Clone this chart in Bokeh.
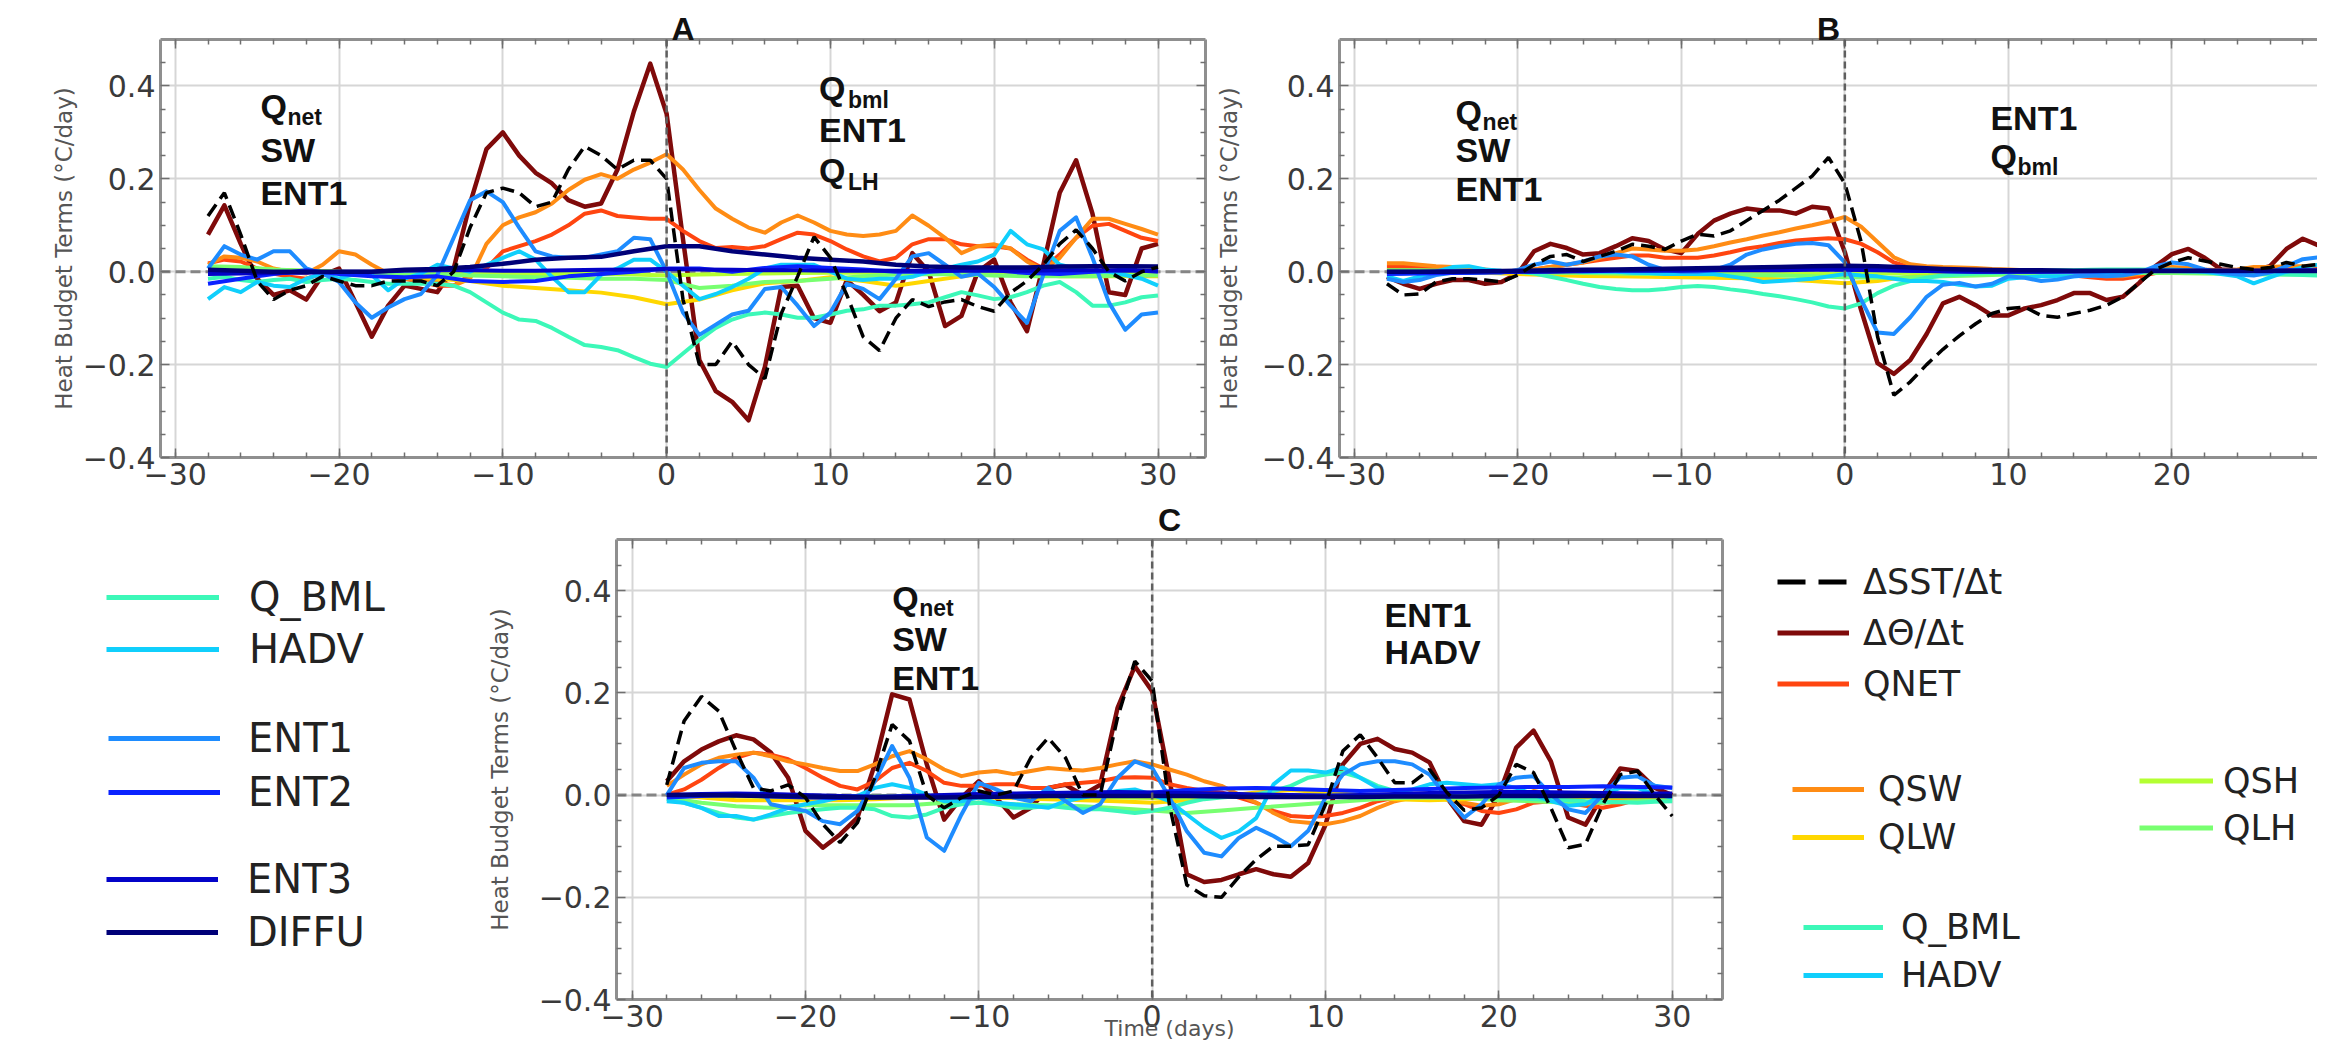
from bokeh.plotting import figure
from bokeh.models import (Range1d, LinearAxis, FixedTicker, Grid, Span, Label,
                          Legend, LegendItem, CustomJSTickFormatter)
from bokeh.layouts import column, row
from bokeh.embed import file_html
from bokeh.resources import INLINE

# ---------------------------------------------------------------- data
days = list(range(-28, 31))          # daily composite days
days2 = list(range(-28, 31, 2))      # every second day (small terms)

x_major = [-30, -20, -10, 0, 10, 20, 30]
x_labels = ["\u221230", "\u221220", "\u221210", "0", "10", "20", "30"]
x_minor = list(range(-30, 33, 2))
y_major = [-0.4, -0.2, 0.0, 0.2, 0.4]
y_labels = ["\u22120.4", "\u22120.2", "0.0", "0.2", "0.4"]
y_minor = [-0.35, -0.3, -0.25, -0.15, -0.1, -0.05, 0.05, 0.1, 0.15, 0.25, 0.3, 0.35, 0.45]

names = ["\u0394SST/\u0394t", "\u0394\u0398/\u0394t", "QNET", "QSW", "QLW", "QSH", "QLH",
         "Q_BML", "HADV", "ENT1", "ENT2", "ENT3", "DIFFU"]
colors = ["#000000", "#7f0a0a", "#ff4510", "#ff8c14", "#ffd700", "#b4ff32", "#78ff70",
          "#3cf8b8", "#10cffc", "#1e8cff", "#0a22ff", "#0303c8", "#000078"]

# ---- panel A
A_sst = [0.12, 0.17, 0.08, -0.02, -0.06, -0.04, -0.03, -0.01, -0.02, -0.03,
         -0.03, -0.02, -0.02, -0.02, -0.03, 0.0, 0.095, 0.17, 0.18, 0.17,
         0.14, 0.15, 0.22, 0.27, 0.25, 0.22, 0.24, 0.24, 0.2, -0.06,
         -0.2, -0.2, -0.15, -0.2, -0.23, -0.09, -0.01, 0.075, 0.03, -0.05,
         -0.14, -0.17, -0.1, -0.06, -0.075, -0.065, -0.06, -0.075, -0.085, -0.045,
         -0.02, 0.015, 0.06, 0.09, 0.05, 0.0, -0.02, 0.0, 0.01]
A_theta = [0.08, 0.143, 0.06, -0.015, -0.05, -0.04, -0.06, -0.007, 0.007, -0.066,
           -0.14, -0.073, -0.03, -0.037, -0.044, 0.007, 0.147, 0.264, 0.30, 0.25,
           0.213, 0.19, 0.154, 0.14, 0.147, 0.22, 0.345, 0.448, 0.34, 0.07,
           -0.19, -0.257, -0.28, -0.32, -0.205, -0.033, -0.03, -0.10, -0.11, -0.018,
           -0.05, -0.085, -0.066, 0.04, 0.0, -0.117, -0.095, 0.0, 0.026, -0.066,
           -0.128, 0.015, 0.17, 0.24, 0.125, -0.044, -0.05, 0.05, 0.06]
A_qnet = [0.018, 0.026, 0.022, 0.007, -0.004, -0.011, -0.015, -0.004, 0.0, -0.004,
          -0.007, -0.011, -0.015, -0.022, -0.03, -0.03, -0.007, 0.007, 0.044, 0.055,
          0.066, 0.08, 0.10, 0.125, 0.132, 0.12, 0.117, 0.114, 0.114, 0.088,
          0.066, 0.051, 0.053, 0.05, 0.055, 0.07, 0.084, 0.08, 0.066, 0.048,
          0.033, 0.022, 0.03, 0.059, 0.07, 0.07, 0.059, 0.055, 0.055, 0.05,
          0.026, 0.007, 0.037, 0.073, 0.099, 0.103, 0.088, 0.073, 0.066]
A_qsw = [0.015, 0.033, 0.03, 0.022, 0.007, 0.0, -0.004, 0.015, 0.044, 0.037,
         0.015, -0.004, -0.015, -0.018, -0.022, -0.03, -0.015, 0.06, 0.10, 0.117,
         0.128, 0.147, 0.176, 0.198, 0.21, 0.20, 0.22, 0.235, 0.253, 0.22,
         0.176, 0.136, 0.114, 0.095, 0.084, 0.106, 0.121, 0.106, 0.088, 0.08,
         0.077, 0.08, 0.088, 0.121, 0.099, 0.073, 0.04, 0.055, 0.059, 0.05,
         0.022, 0.004, 0.03, 0.073, 0.114, 0.114, 0.103, 0.092, 0.08]
A_qlw = [0.005, 0.008, 0.005, 0.0, 0.0, -0.005, -0.01, -0.015, -0.02, -0.03,
         -0.035, -0.04, -0.045, -0.055, -0.07, -0.06, -0.04, -0.025, -0.02, -0.012,
         -0.02, -0.03, -0.02, -0.01, -0.002, -0.005, -0.01, -0.01, -0.01, -0.01]
A_qsh = [0.01, 0.008, 0.004, 0.002, 0.0, -0.002, -0.003, -0.004, -0.004, -0.004,
         -0.005, -0.005, -0.005, -0.006, -0.008, -0.006, -0.005, -0.004, -0.003, -0.002,
         -0.002, -0.002, -0.002, -0.002, -0.002, -0.003, -0.003, -0.003, -0.003, -0.003]
A_qlh = [0.012, 0.01, 0.005, 0.002, 0.0, -0.003, -0.005, -0.006, -0.008, -0.01,
         -0.012, -0.013, -0.015, -0.015, -0.018, -0.035, -0.03, -0.022, -0.02, -0.015,
         -0.01, -0.006, -0.005, -0.006, -0.008, -0.01, -0.01, -0.01, -0.008, -0.008]
A_qbml = [-0.015, -0.011, -0.018, -0.022, -0.018, -0.015, -0.022, -0.018, -0.015, -0.018,
          -0.022, -0.026, -0.026, -0.026, -0.026, -0.03, -0.044, -0.066, -0.088, -0.103,
          -0.106, -0.121, -0.14, -0.158, -0.162, -0.169, -0.184, -0.198, -0.205, -0.176,
          -0.147, -0.121, -0.103, -0.092, -0.088, -0.092, -0.099, -0.099, -0.092, -0.084,
          -0.081, -0.073, -0.073, -0.07, -0.066, -0.055, -0.044, -0.051, -0.059, -0.055,
          -0.044, -0.03, -0.022, -0.044, -0.073, -0.073, -0.066, -0.055, -0.051]
A_hadv = [-0.059, -0.033, -0.044, -0.022, -0.03, -0.033, -0.015, -0.004, -0.015, -0.004,
          -0.007, -0.04, -0.015, -0.004, 0.015, 0.007, 0.0, 0.015, 0.03, 0.044,
          0.026, -0.011, -0.044, -0.044, -0.007, 0.007, 0.026, 0.026, 0.0, -0.03,
          -0.059, -0.048, -0.033, -0.015, 0.007, 0.015, 0.015, 0.015, 0.0, -0.015,
          -0.018, -0.015, -0.015, -0.011, 0.0, 0.007, 0.015, 0.022, 0.037, 0.088,
          0.059, 0.048, 0.015, 0.007, 0.0, 0.0, -0.007, -0.015, -0.03]
A_ent1 = [0.007, 0.055, 0.037, 0.026, 0.044, 0.044, 0.007, -0.004, -0.022, -0.066,
          -0.099, -0.077, -0.059, -0.048, -0.007, 0.073, 0.154, 0.173, 0.15, 0.095,
          0.044, 0.033, 0.03, 0.03, 0.037, 0.044, 0.073, 0.07, 0.0, -0.088,
          -0.136, -0.114, -0.092, -0.084, -0.037, -0.033, -0.073, -0.117, -0.088, -0.026,
          -0.037, -0.059, -0.015, 0.033, 0.04, 0.015, -0.011, -0.004, -0.033, -0.073,
          -0.11, -0.007, 0.088, 0.117, 0.03, -0.066, -0.125, -0.092, -0.088]
A_ent2 = [-0.026, -0.015, -0.005, 0.003, -0.005, -0.01, -0.012, -0.01, -0.02, -0.022,
          -0.02, -0.01, -0.005, 0.0, 0.007, 0.007, 0.0, 0.008, 0.012, 0.008,
          0.005, 0.0, 0.0, 0.003, 0.003, -0.003, -0.005, 0.0, 0.005, 0.0]
A_ent3 = [-0.005, -0.004, -0.003, -0.002, 0.0, 0.0, 0.002, 0.003, 0.003, 0.002,
          0.002, 0.003, 0.004, 0.005, 0.006, 0.005, 0.004, 0.003, 0.003, 0.002,
          0.002, 0.002, 0.002, 0.002, 0.002, 0.002, 0.003, 0.003, 0.002, 0.002]
A_diffu = [0.004, 0.002, 0.0, 0.0, 0.0, 0.0, 0.004, 0.006, 0.01, 0.017,
           0.026, 0.03, 0.032, 0.044, 0.055, 0.055, 0.044, 0.037, 0.03, 0.026,
           0.022, 0.015, 0.011, 0.009, 0.009, 0.009, 0.011, 0.012, 0.012, 0.011]

# ---- panel B
B_sst = [-0.026, -0.05, -0.048, -0.022, -0.015, -0.015, -0.018, -0.022, -0.007, 0.015,
         0.033, 0.037, 0.022, 0.033, 0.044, 0.059, 0.055, 0.048, 0.066, 0.081,
         0.077, 0.088, 0.11, 0.132, 0.154, 0.18, 0.206, 0.246, 0.19, 0.064,
         -0.14, -0.266, -0.237, -0.2, -0.167, -0.138, -0.112, -0.09, -0.079, -0.076,
         -0.094, -0.098, -0.09, -0.083, -0.072, -0.054, -0.024, 0.005, 0.02, 0.03,
         0.023, 0.016, 0.009, 0.005, 0.009, 0.02, 0.012, 0.016, 0.01]
B_theta = [-0.011, -0.026, -0.037, -0.026, -0.018, -0.018, -0.026, -0.022, -0.004, 0.044,
           0.06, 0.051, 0.037, 0.04, 0.055, 0.072, 0.066, 0.048, 0.04, 0.081,
           0.11, 0.125, 0.136, 0.132, 0.132, 0.125, 0.14, 0.136, 0.042, -0.083,
           -0.197, -0.22, -0.19, -0.134, -0.068, -0.054, -0.072, -0.094, -0.094, -0.079,
           -0.072, -0.061, -0.046, -0.046, -0.061, -0.054, -0.024, 0.012, 0.038, 0.049,
           0.03, 0.005, 0.003, 0.003, 0.012, 0.049, 0.071, 0.056, 0.04]
B_qnet = [0.01, 0.01, 0.01, 0.008, 0.005, 0.003, 0.0, 0.0, 0.0, 0.005,
          0.01, 0.015, 0.02, 0.025, 0.03, 0.035, 0.035, 0.03, 0.03, 0.03,
          0.035, 0.042, 0.05, 0.055, 0.062, 0.067, 0.07, 0.072, 0.07, 0.06,
          0.042, 0.02, 0.01, 0.005, 0.003, 0.002, 0.0, 0.0, 0.0, -0.002,
          -0.004, -0.005, -0.008, -0.012, -0.015, -0.015, -0.01, -0.003, 0.003, 0.005,
          0.003, 0.0, 0.0, 0.0, 0.002, 0.005, 0.008, 0.008, 0.008]
B_qsw = [0.018, 0.018, 0.015, 0.012, 0.01, 0.008, 0.005, 0.0, 0.0, 0.005,
         0.01, 0.015, 0.02, 0.03, 0.04, 0.05, 0.048, 0.045, 0.045, 0.048,
         0.055, 0.063, 0.07, 0.078, 0.085, 0.093, 0.1, 0.108, 0.118, 0.097,
         0.064, 0.031, 0.016, 0.012, 0.01, 0.009, 0.008, 0.006, 0.005, 0.003,
         0.0, -0.003, -0.005, -0.008, -0.01, -0.01, -0.005, 0.003, 0.01, 0.008,
         0.005, 0.003, 0.005, 0.01, 0.01, 0.012, 0.012, 0.015, 0.015]
B_qlw = [-0.003, -0.003, -0.002, -0.002, -0.005, -0.007, -0.009, -0.01, -0.011, -0.012,
         -0.013, -0.014, -0.016, -0.02, -0.025, -0.02, -0.01, -0.005, -0.003, -0.002,
         -0.001, 0.0, 0.0, 0.0, 0.0, -0.002, -0.003, -0.003, -0.003, -0.003]
B_qsh = [0.002, 0.002, 0.001, 0.0, 0.0, 0.0, -0.001, -0.002, -0.002, -0.002,
         -0.003, -0.003, -0.003, -0.004, -0.005, -0.004, -0.002, -0.001, 0.0, 0.0,
         0.0, 0.0, 0.0, 0.0, 0.0, 0.0, 0.0, 0.0, 0.0, 0.0]
B_qlh = [0.003, 0.003, 0.002, 0.001, 0.0, -0.002, -0.003, -0.004, -0.005, -0.005,
         -0.006, -0.007, -0.008, -0.01, -0.012, -0.013, -0.012, -0.01, -0.008, -0.006,
         -0.005, -0.004, -0.003, -0.003, -0.003, -0.004, -0.005, -0.006, -0.006, -0.006]
B_qbml = [-0.004, -0.004, -0.003, -0.003, -0.002, -0.002, -0.001, 0.0, 0.0, -0.004,
          -0.011, -0.018, -0.026, -0.033, -0.037, -0.04, -0.04, -0.037, -0.033, -0.031,
          -0.033, -0.038, -0.042, -0.048, -0.053, -0.059, -0.066, -0.075, -0.079, -0.068,
          -0.046, -0.03, -0.02, -0.013, -0.008, -0.006, -0.004, -0.003, -0.001, 0.0,
          0.002, 0.003, 0.003, 0.004, 0.005, 0.005, 0.005, 0.004, 0.002, 0.0,
          -0.001, -0.002, -0.003, -0.004, -0.005, -0.006, -0.007, -0.008, -0.008]
B_hadv = [-0.01, -0.02, -0.01, 0.0, 0.01, 0.012, 0.005, 0.002, 0.0, 0.002,
          0.005, 0.003, 0.0, 0.0, 0.0, -0.002, -0.003, -0.005, -0.005, -0.005,
          -0.005, -0.01, -0.015, -0.022, -0.02, -0.018, -0.015, -0.01, -0.005, -0.008,
          -0.01, -0.015, -0.02, -0.02, -0.022, -0.028, -0.032, -0.03, -0.015, -0.012,
          -0.01, -0.01, -0.01, -0.008, -0.005, -0.003, 0.0, 0.003, 0.005, 0.003,
          0.0, -0.005, -0.01, -0.025, -0.012, 0.0, 0.01, 0.015, 0.012]
B_ent1 = [-0.015, -0.022, -0.018, -0.007, -0.002, -0.002, 0.0, -0.002, 0.004, 0.015,
          0.022, 0.015, 0.022, 0.033, 0.037, 0.033, 0.015, 0.004, 0.0, 0.0,
          0.004, 0.015, 0.037, 0.048, 0.055, 0.06, 0.062, 0.057, 0.02, -0.06,
          -0.131, -0.134, -0.098, -0.054, -0.028, -0.024, -0.032, -0.026, -0.01, -0.013,
          -0.02, -0.017, -0.01, -0.008, -0.01, -0.008, -0.002, 0.012, 0.02, 0.016,
          0.005, -0.002, -0.006, -0.008, -0.002, 0.012, 0.027, 0.031, 0.03]
B_ent2 = [-0.005, -0.004, -0.003, -0.002, 0.0, 0.001, 0.002, 0.003, 0.003, 0.004,
          0.004, 0.005, 0.006, 0.007, 0.006, 0.004, 0.002, 0.001, 0.0, 0.0,
          0.0, 0.0, 0.001, 0.002, 0.002, 0.002, 0.002, 0.002, 0.003, 0.003]
B_ent3 = [0.0, 0.0, 0.001, 0.001, 0.0, 0.0, 0.001, 0.002, 0.002, 0.002,
          0.003, 0.003, 0.003, 0.004, 0.004, 0.003, 0.002, 0.001, 0.0, 0.0,
          0.0, 0.001, 0.001, 0.001, 0.001, 0.001, 0.001, 0.001, 0.001, 0.001]
B_diffu = [0.0, 0.0, 0.0, 0.001, 0.002, 0.003, 0.004, 0.005, 0.006, 0.007,
           0.008, 0.009, 0.01, 0.012, 0.013, 0.012, 0.009, 0.006, 0.004, 0.003,
           0.003, 0.002, 0.002, 0.002, 0.002, 0.002, 0.002, 0.002, 0.002, 0.002]

# ---- panel C
C_sst = [0.02, 0.145, 0.193, 0.164, 0.086, 0.014, 0.008, 0.02, -0.005, -0.057,
         -0.093, -0.054, 0.034, 0.138, 0.106, 0.0, -0.025, -0.005, 0.008, 0.0,
         0.008, 0.073, 0.112, 0.073, 0.0, 0.0, 0.151, 0.262, 0.223, -0.02,
         -0.176, -0.197, -0.2, -0.16, -0.126, -0.1, -0.1, -0.097, -0.018, 0.086,
         0.118, 0.073, 0.024, 0.024, 0.05, 0.005, -0.03, -0.025, 0.0, 0.06,
         0.044, -0.025, -0.103, -0.096, -0.018, 0.04, 0.047, 0.0, -0.041]
C_theta = [0.027, 0.066, 0.089, 0.105, 0.117, 0.109, 0.083, 0.034, -0.07, -0.103,
           -0.077, -0.044, 0.06, 0.197, 0.187, 0.06, -0.048, -0.005, 0.027, -0.005,
           -0.044, -0.025, 0.014, 0.02, 0.0, 0.02, 0.17, 0.252, 0.203, 0.03,
           -0.155, -0.17, -0.166, -0.155, -0.145, -0.155, -0.16, -0.133, -0.058, 0.06,
           0.1, 0.11, 0.09, 0.083, 0.064, -0.005, -0.051, -0.058, 0.0, 0.093,
           0.126, 0.066, -0.044, -0.058, 0.0, 0.052, 0.047, 0.014, 0.0]
C_qnet = [0.001, 0.011, 0.03, 0.053, 0.073, 0.083, 0.079, 0.07, 0.053, 0.034,
          0.018, 0.011, 0.027, 0.053, 0.063, 0.047, 0.024, 0.018, 0.018, 0.021,
          0.021, 0.014, 0.014, 0.021, 0.024, 0.027, 0.034, 0.035, 0.034, 0.021,
          0.014, 0.008, 0.005, -0.005, -0.015, -0.031, -0.041, -0.043, -0.041, -0.035,
          -0.025, -0.012, -0.005, 0.001, -0.002, -0.009, -0.018, -0.031, -0.035, -0.028,
          -0.015, -0.012, -0.015, -0.021, -0.025, -0.018, -0.009, -0.003, 0.001]
C_qsw = [0.018, 0.04, 0.06, 0.073, 0.079, 0.083, 0.076, 0.066, 0.06, 0.053,
         0.047, 0.047, 0.06, 0.076, 0.086, 0.07, 0.05, 0.037, 0.044, 0.047,
         0.041, 0.047, 0.053, 0.05, 0.048, 0.053, 0.06, 0.066, 0.06, 0.05,
         0.04, 0.027, 0.018, 0.001, -0.015, -0.035, -0.051, -0.054, -0.057, -0.051,
         -0.041, -0.025, -0.012, -0.005, -0.002, -0.005, -0.015, -0.021, -0.018, -0.008,
         0.008, 0.001, -0.015, -0.018, -0.015, -0.008, -0.005, -0.002, -0.002]
C_qlw = [0.0, -0.005, -0.01, -0.01, -0.01, -0.01, -0.008, -0.005, -0.005, -0.005,
         -0.006, -0.008, -0.01, -0.012, -0.015, -0.01, -0.003, 0.005, 0.01, 0.005,
         0.0, -0.008, -0.01, -0.008, -0.005, -0.004, -0.005, -0.005, -0.005, -0.005]
C_qsh = [0.0, 0.0, -0.002, -0.003, -0.003, -0.003, -0.002, -0.002, -0.002, -0.002,
         -0.003, -0.003, -0.004, -0.005, -0.006, -0.006, -0.004, -0.003, -0.002, -0.001,
         -0.001, -0.002, -0.002, -0.002, -0.002, -0.002, -0.003, -0.003, -0.003, -0.003]
C_qlh = [-0.005, -0.015, -0.022, -0.025, -0.02, -0.02, -0.02, -0.02, -0.015, -0.015,
         -0.018, -0.02, -0.022, -0.026, -0.03, -0.035, -0.03, -0.025, -0.02, -0.015,
         -0.01, -0.006, -0.005, -0.006, -0.01, -0.012, -0.015, -0.015, -0.012, -0.01]
C_qbml = [-0.008, -0.015, -0.025, -0.035, -0.044, -0.048, -0.041, -0.035, -0.031, -0.028,
          -0.025, -0.025, -0.028, -0.041, -0.044, -0.038, -0.025, -0.018, -0.015, -0.018,
          -0.025, -0.025, -0.021, -0.025, -0.028, -0.028, -0.031, -0.035, -0.031, -0.025,
          -0.015, -0.008, -0.005, -0.002, 0.001, 0.008, 0.018, 0.034, 0.04, 0.044,
          0.034, 0.018, 0.008, 0.001, -0.002, 0.001, 0.001, -0.002, -0.005, -0.006,
          -0.008, -0.009, -0.01, -0.012, -0.013, -0.014, -0.015, -0.013, -0.012]
C_hadv = [-0.012, -0.015, -0.025, -0.041, -0.041, -0.048, -0.038, -0.025, -0.018, -0.012,
          -0.005, -0.002, 0.014, 0.021, 0.014, 0.001, -0.012, -0.012, -0.005, -0.015,
          -0.018, -0.021, -0.025, -0.012, -0.005, 0.001, 0.008, 0.011, 0.001, -0.012,
          -0.038, -0.064, -0.084, -0.071, -0.045, 0.021, 0.048, 0.048, 0.044, 0.054,
          0.034, 0.014, 0.008, 0.011, 0.021, 0.024, 0.021, 0.018, 0.021, 0.014,
          0.001, -0.012, -0.021, -0.018, 0.001, 0.014, 0.014, 0.001, -0.005]
C_ent1 = [0.0, 0.053, 0.063, 0.066, 0.066, 0.034, -0.018, -0.025, -0.031, -0.051,
          -0.057, -0.031, 0.027, 0.096, 0.034, -0.083, -0.109, -0.038, 0.024, 0.011,
          -0.005, -0.012, 0.014, -0.012, -0.035, -0.018, 0.034, 0.066, 0.053, -0.005,
          -0.071, -0.113, -0.12, -0.084, -0.064, -0.08, -0.1, -0.07, -0.005, 0.04,
          0.06, 0.066, 0.066, 0.06, 0.04, -0.005, -0.044, -0.018, 0.021, 0.034,
          0.037, 0.001, -0.028, -0.035, 0.001, 0.034, 0.037, 0.018, 0.014]
C_ent2 = [-0.005, -0.002, 0.0, -0.003, -0.005, -0.006, -0.005, -0.003, -0.002, 0.0,
          0.002, 0.003, 0.002, 0.003, 0.005, 0.01, 0.013, 0.014, 0.012, 0.01,
          0.008, 0.01, 0.012, 0.014, 0.015, 0.016, 0.016, 0.017, 0.016, 0.015]
C_ent3 = [0.0, 0.002, 0.003, 0.002, 0.0, -0.002, -0.003, -0.002, 0.0, 0.002,
          0.003, 0.004, 0.005, 0.006, 0.005, 0.004, 0.003, 0.001, 0.0, -0.001,
          0.0, 0.002, 0.004, 0.005, 0.006, 0.006, 0.005, 0.004, 0.003, 0.003]
C_diffu = [0.0, 0.0, -0.001, -0.002, -0.003, -0.004, -0.005, -0.005, -0.005, -0.004,
           -0.003, -0.002, -0.002, -0.002, -0.002, -0.002, -0.003, -0.004, -0.004, -0.004,
           -0.004, -0.003, -0.003, -0.003, -0.002, -0.002, -0.002, -0.002, -0.002, -0.002]

# ---------------------------------------------------------------- styles
SPINE = "#8f8f8f"
TICK = "#6f6f6f"
GRID = "#d6d6d6"
TICK_FONT = "DejaVu Sans"
NOTE_FONT = "Liberation Sans"


def fmt(vals, labs):
    return CustomJSTickFormatter(args=dict(vals=vals, labs=labs), code="""
        const i = vals.findIndex(v => Math.abs(v - tick) < 1e-9);
        return i >= 0 ? labs[i] : '';
    """)


def blank_fmt():
    return CustomJSTickFormatter(code="return '';")


def style_axis(ax, labelled):
    ax.axis_line_color = SPINE
    ax.axis_line_width = 3
    ax.major_tick_in = 9
    ax.major_tick_out = 0
    ax.minor_tick_in = 5
    ax.minor_tick_out = 0
    ax.major_tick_line_color = TICK
    ax.minor_tick_line_color = TICK
    ax.major_tick_line_width = 1.5
    ax.minor_tick_line_width = 1.5
    if labelled:
        ax.major_label_text_font = TICK_FONT
        ax.major_label_text_font_size = "30px"
        ax.major_label_text_color = "#3a3a3a"
        ax.major_label_standoff = 5
    else:
        ax.major_label_standoff = 0
        ax.major_label_text_font_size = "1px"


def build_panel(data, title, title_offset, title_standoff, x_end, width, height,
                bl, br, bt, bb, ylab_standoff, right_axis=True, xlabel=None):
    p = figure(width=width, height=height, x_range=Range1d(-30.9, x_end),
               y_range=Range1d(-0.4, 0.5), x_axis_type=None, y_axis_type=None,
               output_backend="svg", toolbar_location=None,
               min_border_left=bl, min_border_right=br, min_border_top=bt,
               min_border_bottom=bb, outline_line_color=None,
               background_fill_color="white", border_fill_color="white",
               title=title)
    p.title.align = "center"
    p.title.offset = title_offset
    p.title.standoff = title_standoff
    p.title.text_font = NOTE_FONT
    p.title.text_font_style = "bold"
    p.title.text_font_size = "32px"
    p.title.text_color = "#111111"

    xt = FixedTicker(ticks=x_major, minor_ticks=x_minor)
    yt = FixedTicker(ticks=y_major, minor_ticks=y_minor)

    bottom = LinearAxis(ticker=xt, formatter=fmt(x_major, x_labels))
    style_axis(bottom, True)
    if xlabel:
        bottom.axis_label = xlabel
        bottom.axis_label_text_font = TICK_FONT
        bottom.axis_label_text_font_style = "normal"
        bottom.axis_label_text_font_size = "22px"
        bottom.axis_label_text_color = "#555555"
        bottom.axis_label_standoff = -14
    p.add_layout(bottom, "below")
    left = LinearAxis(ticker=yt, formatter=fmt(y_major, y_labels),
                      axis_label="Heat Budget Terms (\u00b0C/day)")
    style_axis(left, True)
    left.axis_label_text_font = TICK_FONT
    left.axis_label_text_font_style = "normal"
    left.axis_label_text_font_size = "23px"
    left.axis_label_text_color = "#555555"
    left.axis_label_standoff = ylab_standoff
    p.add_layout(left, "left")
    top = LinearAxis(ticker=xt, formatter=blank_fmt())
    style_axis(top, False)
    p.add_layout(top, "above")
    if right_axis:
        right = LinearAxis(ticker=yt, formatter=blank_fmt())
        style_axis(right, False)
        p.add_layout(right, "right")

    p.add_layout(Grid(dimension=0, ticker=xt, grid_line_color=GRID, grid_line_width=2))
    p.add_layout(Grid(dimension=1, ticker=yt, grid_line_color=GRID, grid_line_width=2))
    p.add_layout(Span(location=0, dimension="width", line_color="#858585",
                      line_width=3, line_dash="10 5", level="underlay"))

    # draw order: coloured terms, then the SST tendency on top
    order = [1, 2, 3, 4, 5, 6, 7, 8, 9, 10, 11, 12, 0]
    for i in order:
        xs, ys = data[i]
        if i == 0:
            p.line(xs, ys, line_color=colors[i], line_width=3.5, line_dash="14 7")
        else:
            lw = 4.5 if i in (1, 12) else 4
            p.line(xs, ys, line_color=colors[i], line_width=lw, line_join="round")

    p.add_layout(Span(location=0, dimension="height", line_color="#5f5f5f",
                      line_width=2.5, line_dash="7 4"))
    return p


def note(p, x, y, text, sub=None, sub_dx=28, sub_dy=-10):
    p.add_layout(Label(x=x, y=y, text=text, text_font=NOTE_FONT, text_font_style="bold",
                       text_font_size="34px", text_color="#111111",
                       text_baseline="alphabetic", text_align="left"))
    if sub:
        p.add_layout(Label(x=x, y=y, x_offset=sub_dx, y_offset=sub_dy, text=sub,
                           text_font=NOTE_FONT, text_font_style="bold",
                           text_font_size="23px", text_color="#111111",
                           text_baseline="alphabetic", text_align="left"))


dataA = [(days, A_sst), (days, A_theta), (days, A_qnet), (days, A_qsw), (days2, A_qlw),
         (days2, A_qsh), (days2, A_qlh), (days, A_qbml), (days, A_hadv), (days, A_ent1),
         (days2, A_ent2), (days2, A_ent3), (days2, A_diffu)]
dataB = [(days, B_sst), (days, B_theta), (days, B_qnet), (days, B_qsw), (days2, B_qlw),
         (days2, B_qsh), (days2, B_qlh), (days, B_qbml), (days, B_hadv), (days, B_ent1),
         (days2, B_ent2), (days2, B_ent3), (days2, B_diffu)]
dataC = [(days, C_sst), (days, C_theta), (days, C_qnet), (days, C_qsw), (days2, C_qlw),
         (days2, C_qsh), (days2, C_qlh), (days, C_qbml), (days, C_hadv), (days, C_ent1),
         (days2, C_ent2), (days2, C_ent3), (days2, C_diffu)]

pA = build_panel(dataA, "A", 0, -14, 32.9, 1212, 497, 160, 7, 39, 40, 3)
pB = build_panel(dataB, "B", 30, -14, 28.9, 1105, 497, 123, 0, 39, 40, 17, right_axis=False)
pC = build_panel(dataC, "C", -11, 3, 32.9, 1255, 550, 134, 15, 42, 48, 23,
                 xlabel="Time (days)")

note(pA, -24.8, 0.356, "Q", "net", 27, -11)
note(pA, -24.8, 0.262, "SW")
note(pA, -24.8, 0.169, "ENT1")
note(pA, 9.3, 0.396, "Q", "bml", 29, -12)
note(pA, 9.3, 0.306, "ENT1")
note(pA, 9.3, 0.218, "Q", "LH", 29, -12)

note(pB, -23.8, 0.343, "Q", "net", 27, -10)
note(pB, -23.8, 0.262, "SW")
note(pB, -23.8, 0.179, "ENT1")
note(pB, 8.9, 0.33, "ENT1")
note(pB, 8.9, 0.25, "Q", "bml", 27, -11)

note(pC, -15.0, 0.386, "Q", "net", 27, -10)
note(pC, -15.0, 0.305, "SW")
note(pC, -15.0, 0.23, "ENT1")
note(pC, 13.4, 0.353, "ENT1")
note(pC, 13.4, 0.28, "HADV")


# ---------------------------------------------------------------- legends
def legend_fig(width, height):
    f = figure(width=width, height=height, x_range=Range1d(0, 1), y_range=Range1d(0, 1),
               x_axis_type=None, y_axis_type=None, output_backend="svg",
               toolbar_location=None, min_border=0, outline_line_color=None,
               background_fill_color="white", border_fill_color="white", title=None)
    return f


def add_group(f, idxs, loc, gw, gh, standoff, font="35px", spacing=0):
    items = []
    for i in idxs:
        # key sample renderers: kept outside the visible (0..1) range
        if i == 0:
            r = f.line(x=[5, 6], y=[5, 5], line_color=colors[i], line_width=5,
                       line_dash="28 13")
        else:
            r = f.line(x=[5, 6], y=[5, 5], line_color=colors[i], line_width=5)
        items.append(LegendItem(label=names[i], renderers=[r]))
    lg = Legend(items=items, location=loc, orientation="vertical", glyph_width=gw,
                glyph_height=gh, label_height=gh, label_standoff=standoff, spacing=spacing,
                padding=0, margin=0, border_line_color=None, background_fill_alpha=0,
                label_text_font=TICK_FONT, label_text_font_size=font,
                label_text_color="#222222", label_text_baseline="middle")
    f.add_layout(lg)


pL = legend_fig(482, 550)
add_group(pL, [7, 8], (106, 324), 113, 52, 30, font="40px")
add_group(pL, [9, 10], (108, 181), 112, 52, 28, font="40px", spacing=2)
add_group(pL, [11, 12], (106, 41), 112, 52, 29, font="40px", spacing=1)

pR = legend_fig(580, 550)
add_group(pR, [0, 1, 2], (40, 290), 72, 51, 14)
add_group(pR, [3, 4], (55, 138), 72, 48, 14)
add_group(pR, [7, 8], (66, 0), 80, 48, 18)
add_group(pR, [5, 6], (402, 148), 74, 47, 10)

layout = column(row(pA, pB), row(pL, pC, pR))

open("out.html", "w").write(file_html(layout, INLINE))
